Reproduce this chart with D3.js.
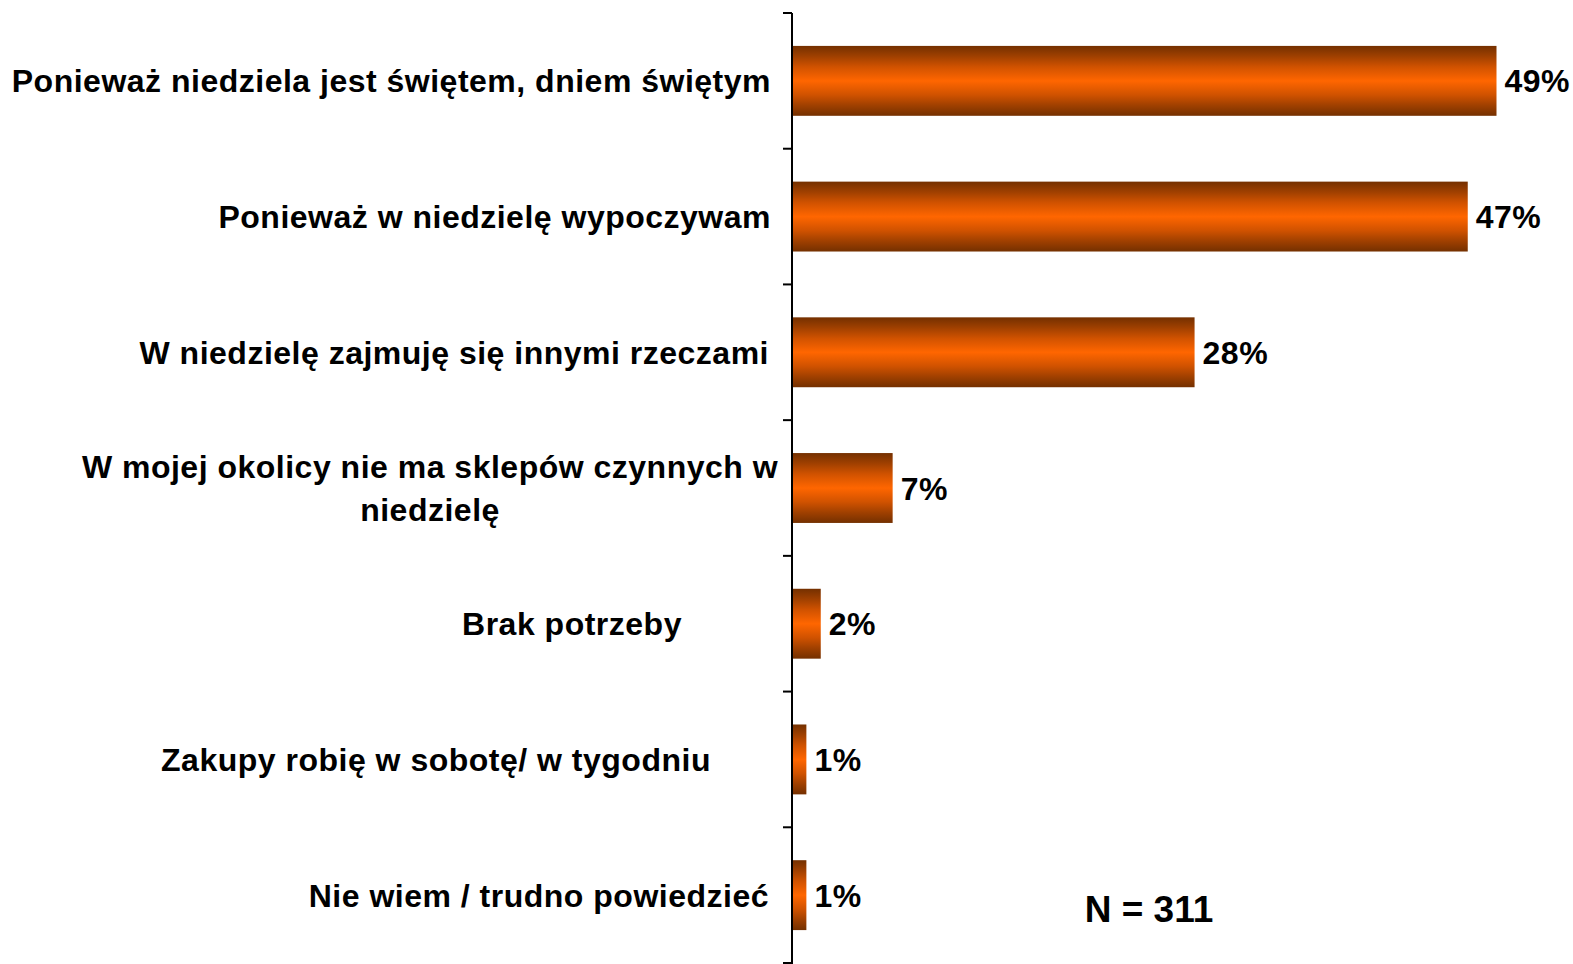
<!DOCTYPE html>
<html>
<head>
<meta charset="utf-8">
<script src="https://cdn.jsdelivr.net/npm/d3@7"></script>
<style>
  body { margin: 0; background: #fff; }
  text { font-family: "Liberation Sans", Arial, sans-serif; font-weight: bold; fill: #000; }
</style>
</head>
<body>
<div id="chart"></div>
<script>
var categories = [
    ["Ponieważ niedziela jest świętem, dniem świętym"],
    ["Ponieważ w niedzielę wypoczywam"],
    ["W niedzielę zajmuję się innymi rzeczami"],
    ["W mojej okolicy nie ma sklepów czynnych w", "niedzielę"],
    ["Brak potrzeby"],
    ["Zakupy robię w sobotę/ w tygodniu"],
    ["Nie wiem / trudno powiedzieć"]
];
var values = [49, 47, 28, 7, 2, 1, 1];
var note = "N = 311";

var svgWidth = 1573;
var svgHeight = 964;
var axisX = 792;

var svg = d3.select("#chart")
    .append("svg")
    .attr("width", svgWidth)
    .attr("height", svgHeight);

// bar gradient: dark edges, bright orange middle
var grad = svg.append("defs").append("linearGradient")
    .attr("id", "barGrad")
    .attr("x1", 0).attr("y1", 0).attr("x2", 0).attr("y2", 1);
[[0, "#743000"], [0.15, "#a04000"], [0.3, "#d05200"], [0.5, "#ff6600"],
 [0.7, "#d05200"], [0.85, "#a04000"], [1, "#743000"]].forEach(function (s) {
    grad.append("stop").attr("offset", s[0]).attr("stop-color", s[1]);
});

var xScale = d3.scaleLinear()
    .domain([0, 49])
    .range([axisX, 1496.5]);

var yScale = d3.scaleBand()
    .domain(d3.range(categories.length))
    .range([13, 963])
    .paddingInner(0.485)
    .paddingOuter(0.2425);

// axis line and ticks between categories
svg.append("line")
    .attr("x1", axisX).attr("x2", axisX)
    .attr("y1", 13).attr("y2", svgHeight)
    .attr("stroke", "#000").attr("stroke-width", 2);

var tickYs = d3.range(categories.length + 1).map(function (i) {
    return 13 + i * (950 / categories.length);
});
svg.selectAll(".tick")
    .data(tickYs)
    .enter()
    .append("line")
    .attr("x1", axisX - 9).attr("x2", axisX)
    .attr("y1", d => d).attr("y2", d => d)
    .attr("stroke", "#000").attr("stroke-width", 2);

svg.selectAll(".bar")
    .data(values)
    .enter()
    .append("rect")
    .attr("x", axisX + 1)
    .attr("y", (d, i) => yScale(i))
    .attr("width", d => xScale(d) - axisX - 1)
    .attr("height", yScale.bandwidth())
    .attr("fill", "url(#barGrad)");

svg.selectAll(".val")
    .data(values)
    .enter()
    .append("text")
    .attr("x", d => xScale(d) + 8)
    .attr("y", (d, i) => yScale(i) + yScale.bandwidth() / 2)
    .attr("dy", "0.36em")
    .attr("font-size", "32px")
    .attr("letter-spacing", "0.5px")
    .text(d => d + "%");

// category label placement (as drawn in the original)
var labelAnchor = [
    ["end", 771], ["end", 771], ["end", 769], ["middle", 430],
    ["middle", 572], ["middle", 436], ["end", 769]
];

var labels = svg.selectAll(".lab")
    .data(categories)
    .enter()
    .append("text")
    .attr("font-size", "32px")
    .attr("letter-spacing", "0.5px")
    .attr("text-anchor", (d, i) => labelAnchor[i][0])
    .attr("y", (d, i) => yScale(i) + yScale.bandwidth() / 2);

labels.each(function (d, i) {
    var t = d3.select(this);
    d.forEach(function (line, j) {
        t.append("tspan")
            .attr("x", labelAnchor[i][1])
            .attr("dy", j === 0 ? (0.36 - (d.length - 1) * 0.67) + "em" : "1.34em")
            .text(line);
    });
});

svg.append("text")
    .attr("x", 1149)
    .attr("y", 922)
    .attr("text-anchor", "middle")
    .attr("font-size", "37px")
    .text(note);
</script>
</body>
</html>
